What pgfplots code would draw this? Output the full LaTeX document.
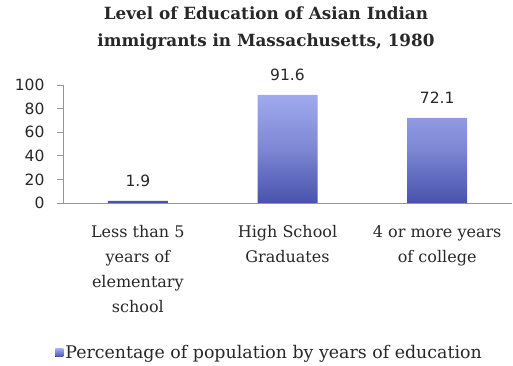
\documentclass[border=0pt]{standalone}
\usepackage{pgfplots}
\pgfplotsset{compat=1.18}
\usepackage{fontspec}
\setmainfont{DejaVu Serif}
\newfontfamily\numfont{DejaVu Sans}
\definecolor{bartop}{RGB}{160,170,238}
\definecolor{barbot}{RGB}{72,82,172}
\definecolor{axgray}{RGB}{150,150,150}
\definecolor{txt}{RGB}{40,40,40}
\begin{document}
\begin{tikzpicture}
\useasboundingbox (0,0) rectangle (513pt,366pt);
\fill[white] (0,0) rectangle (513pt,366pt);
\node[align=center, font=\fontsize{16.8}{27}\selectfont\bfseries, text=txt] at (266pt,338pt)
  {Level of Education of Asian Indian\\immigrants in Massachusetts, 1980};
\begin{axis}[
  /pgf/number format/assume math mode=true,
  at={(63pt,163pt)}, anchor=south west,
  scale only axis, width=449pt, height=118pt,
  ybar, bar width=60pt,
  xmin=-0.5, xmax=2.5, ymin=0, ymax=100,
  axis x line*=bottom, axis y line*=left,
  axis line style={axgray, line width=0.8pt},
  ytick={0,20,...,100},
  xtick={0,1,2},
  xticklabels={{Less than 5\\years of\\elementary\\school},{High School\\Graduates},{4 or more years\\of college}},
  x tick label style={align=center, font=\fontsize{16}{25}\selectfont, text=txt, anchor=north, yshift=-13pt},
  y tick label style={font=\numfont\fontsize{15.5}{18}\selectfont, text=txt, xshift=-9pt},
  major x tick style={draw=none},
  extra x ticks={-0.5,0.5,1.5,2.5},
  extra x tick labels={},
  extra x tick style={tick style={axgray, line width=0.8pt}, major tick length=7pt, tick align=outside},
  y tick style={axgray, line width=0.8pt},
  major tick length=6pt, tick align=outside,
  tick pos=left,
  nodes near coords,
  every node near coord/.append style={font=\numfont\fontsize{15.5}{18}\selectfont, text=txt, anchor=south, yshift=11pt},
  legend style={at={(0.46,-1.27)}, anchor=center, draw=none, fill=none,
    font=\fontsize{17.4}{20}\selectfont, text=txt},
  legend image code/.code={\fill[bottom color=barbot, top color=bartop] (0pt,-4pt) rectangle (8pt,4pt);},
]
\addplot[draw=none, bottom color=barbot, top color=bartop, middle color=bartop!60!barbot] coordinates {(0,1.9) (1,91.6) (2,72.1)};
\addlegendentry{Percentage of population by years of education}
\end{axis}
\end{tikzpicture}
\end{document}
